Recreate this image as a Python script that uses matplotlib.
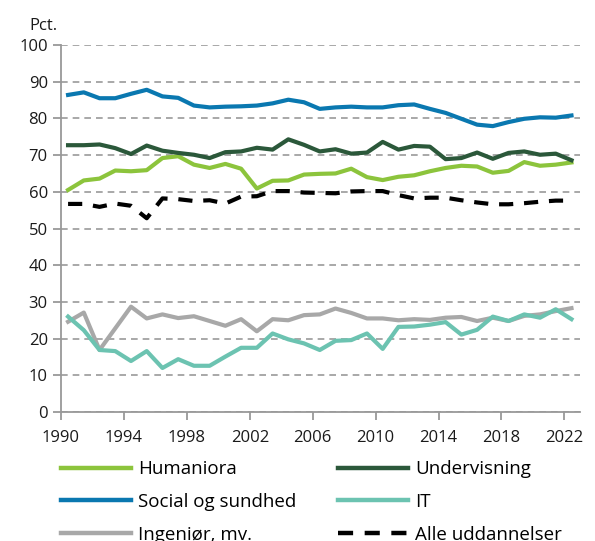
import numpy as np
import matplotlib
matplotlib.use("Agg")
import matplotlib.pyplot as plt
from matplotlib.ticker import MultipleLocator

plt.rcParams["font.family"] = ["Open Sans", "DejaVu Sans"]

# -----------------------------------------------------------------------
# Data (pct.)
# -----------------------------------------------------------------------
years = np.arange(1990, 2023)

humaniora = [60.5, 63.1, 63.6, 65.8, 65.6, 65.9, 69.2, 69.7, 67.4, 66.5, 67.6,
             66.3, 60.9, 63.0, 63.1, 64.7, 64.9, 65.0, 66.3, 64.0, 63.2,
             64.1, 64.5, 65.6, 66.5, 67.1, 66.9, 65.2, 65.7, 68.1, 67.1, 67.4, 68.0]
undervisning = [72.7, 72.7, 72.9, 71.9, 70.3, 72.6, 71.2, 70.6, 70.1, 69.2, 70.8,
                71.0, 72.0, 71.5, 74.3, 72.8, 71.0, 71.6, 70.4, 70.7, 73.6,
                71.5, 72.5, 72.3, 68.9, 69.2, 70.7, 69.0, 70.6, 71.0, 70.1, 70.4, 68.6]
social = [86.4, 87.1, 85.5, 85.5, 86.7, 87.8, 86.0, 85.6, 83.5, 83.0, 83.2,
          83.3, 83.5, 84.1, 85.1, 84.4, 82.6, 83.0, 83.2, 83.0, 83.0,
          83.6, 83.8, 82.6, 81.5, 79.9, 78.3, 77.9, 79.0, 79.9, 80.3, 80.2, 80.8]
it = [26.0, 22.3, 16.9, 16.6, 13.9, 16.6, 12.0, 14.4, 12.6, 12.6, 15.1,
      17.5, 17.5, 21.4, 19.8, 18.7, 16.9, 19.4, 19.6, 21.4, 17.2,
      23.2, 23.3, 23.8, 24.5, 21.1, 22.4, 26.0, 24.8, 26.6, 25.7, 28.0, 25.3]
ingenior = [24.6, 27.1, 16.9, 22.8, 28.7, 25.5, 26.6, 25.6, 26.1, 24.8, 23.5,
            25.3, 22.0, 25.3, 25.0, 26.4, 26.6, 28.2, 27.0, 25.5, 25.5,
            25.0, 25.3, 25.1, 25.7, 25.9, 24.8, 25.7, 24.8, 26.2, 26.6, 27.5, 28.3]
alle = [56.7, 56.7, 55.9, 56.8, 56.2, 52.8, 58.2, 58.0, 57.5, 57.7, 56.8,
        58.7, 58.8, 60.2, 60.2, 59.8, 59.7, 59.6, 60.1, 60.2, 60.2,
        59.1, 58.2, 58.4, 58.4, 57.7, 57.1, 56.6, 56.6, 56.9, 57.3, 57.6, 57.6]

xticks = [1990, 1994, 1998, 2002, 2006, 2010, 2014, 2018, 2022]

# -----------------------------------------------------------------------
# Figure
# -----------------------------------------------------------------------
fig = plt.figure(figsize=(5.95, 5.41), dpi=100)
ax = fig.add_axes([0.1025, 0.2384, 0.8725, 0.6784])

x = years + 0.45  # values sit between the year ticks
lw = 3.0
series = [
    (humaniora, "Humaniora", "#8cc43c", "-"),
    (social, "Social og sundhed", "#0a78b0", "-"),
    (ingenior, "Ingeniør, mv.", "#a8a8a8", "-"),
    (undervisning, "Undervisning", "#2b583a", "-"),
    (it, "IT", "#6cc3b1", "-"),
    (alle, "Alle uddannelser", "#000000", "--"),
]
handles = []
for vals, label, color, ls in series:
    if ls == "--":
        h, = ax.plot(x, vals, color=color, lw=lw, ls=(0, (3.4, 2.6)),
                     label=label, zorder=3)
    else:
        h, = ax.plot(x, vals, color=color, lw=lw, label=label, zorder=3,
                     solid_joinstyle="round")
    handles.append(h)

ax.set_xlim(1990, 2023)
ax.set_ylim(0, 100)
ax.set_xticks(xticks)
ax.yaxis.set_major_locator(MultipleLocator(10))
ax.grid(axis="y", color="#999999", ls=(0, (4, 3)), lw=1.2)
ax.set_axisbelow(True)

for side in ("top", "right"):
    ax.spines[side].set_visible(False)
for side in ("left", "bottom"):
    ax.spines[side].set_color("#999999")
    ax.spines[side].set_linewidth(1.3)

ax.tick_params(axis="both", colors="#999999", length=6, width=1.3,
               labelsize=12, labelcolor="#1a1a1a")
ax.tick_params(axis="x", pad=7)

fig.text(0.05, 0.952, "Pct.", fontsize=12, color="#1a1a1a", va="center",
         ha="left")

leg = fig.legend(handles=handles, ncol=2, loc="upper left",
                 bbox_to_anchor=(0.1025, 0.149), frameon=False, fontsize=13.5,
                 handlelength=3.73, handletextpad=0.37, columnspacing=2.24,
                 labelspacing=0.78, borderpad=0, borderaxespad=0)
for line in leg.get_lines():
    line.set_linewidth(3.2)

fig.savefig("out.png", dpi=100)
